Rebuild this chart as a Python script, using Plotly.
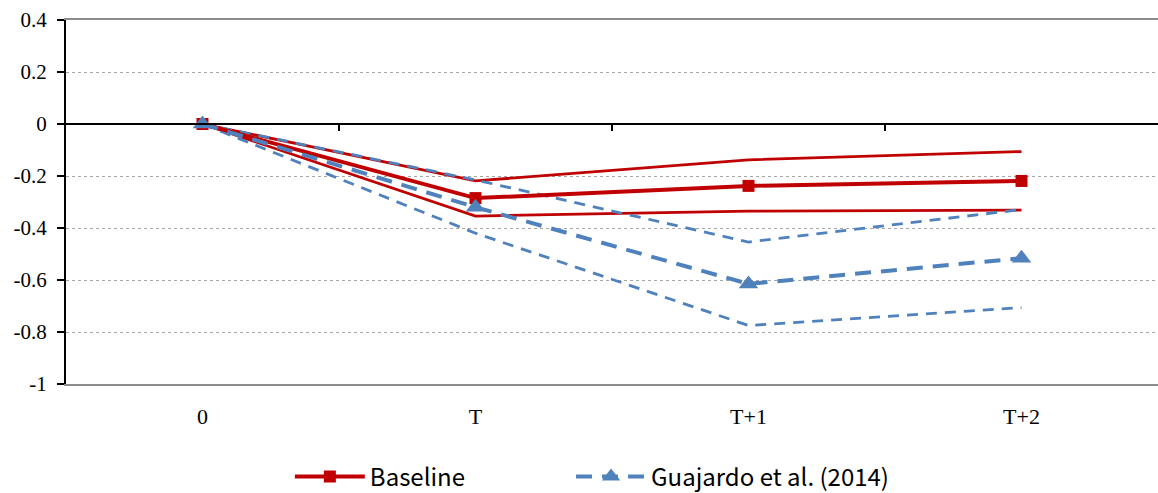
import plotly.graph_objects as go

# Horizons and impulse responses
periods = ["0", "T", "T+1", "T+2"]

baseline = [0.0, -0.285, -0.238, -0.219]
baseline_upper = [0.0, -0.219, -0.138, -0.106]
baseline_lower = [0.0, -0.354, -0.335, -0.331]

guajardo = [0.0, -0.320, -0.615, -0.516]
guajardo_upper = [0.0, -0.215, -0.454, -0.329]
guajardo_lower = [0.0, -0.420, -0.775, -0.706]

y_ticks = [0.4, 0.2, 0, -0.2, -0.4, -0.6, -0.8, -1]
y_labels = ["0.4", "0.2", "0", "-0.2", "-0.4", "-0.6", "-0.8", "-1"]

RED = "#C00000"
BLUE = "#4F81BD"
SERIF = "Liberation Serif, Times New Roman, serif"
LEGEND_FONT = dict(family="Noto Sans CJK KR", size=24, color="black")
x_idx = list(range(len(periods)))

fig = go.Figure()

# Confidence bands (thin lines)
for ys in (baseline_upper, baseline_lower):
    fig.add_trace(go.Scatter(x=x_idx, y=ys, mode="lines",
                             line=dict(color=RED, width=2.8),
                             showlegend=False, hoverinfo="skip"))
for ys in (guajardo_upper, guajardo_lower):
    fig.add_trace(go.Scatter(x=x_idx, y=ys, mode="lines",
                             line=dict(color=BLUE, width=2.8, dash="11px,8px"),
                             showlegend=False, hoverinfo="skip"))

# Point estimates
fig.add_trace(go.Scatter(x=x_idx, y=baseline, mode="lines+markers", name="Baseline",
                         line=dict(color=RED, width=4),
                         marker=dict(symbol="square", size=12, color=RED),
                         legend="legend"))
fig.add_trace(go.Scatter(x=x_idx, y=guajardo, mode="lines+markers",
                         name="Guajardo et al. (2014)",
                         line=dict(color=BLUE, width=4, dash="16px,10px"),
                         marker=dict(symbol="triangle-up", size=17, color=BLUE),
                         legend="legend2"))

# Category axis drawn along y = 0 (ticks between categories)
fig.add_trace(go.Scatter(x=x_idx, y=[None] * len(x_idx), xaxis="x2",
                         showlegend=False, hoverinfo="skip"))

fig.update_layout(
    width=1158, height=493,
    margin=dict(l=66, r=0, t=20, b=109, autoexpand=False),
    plot_bgcolor="white", paper_bgcolor="white",
    font=dict(family=SERIF, size=22, color="black"),
    xaxis=dict(
        range=[-0.5, 3.5], tickmode="array", tickvals=x_idx, ticktext=periods,
        tickfont=dict(family=SERIF, size=22, color="black"),
        showgrid=False, zeroline=False, ticks="",
        showline=True, linecolor="#8c8c8c", linewidth=2, mirror=True,
        ticklabelstandoff=12,
    ),
    xaxis2=dict(
        range=[-0.5, 3.5], overlaying="x", anchor="free", position=1 / 1.4,
        side="bottom", showgrid=False, zeroline=False,
        tickmode="array", tickvals=[0.5, 1.5, 2.5], showticklabels=False,
        ticks="outside", ticklen=6, tickwidth=1.5, tickcolor="black",
        showline=True, linecolor="black", linewidth=2,
    ),
    yaxis=dict(
        range=[-1, 0.4], tickmode="array", tickvals=y_ticks, ticktext=y_labels,
        tickfont=dict(family=SERIF, size=21, color="black"),
        showgrid=True, gridcolor="#a6a6a6", gridwidth=1, griddash="dot",
        zeroline=False, showline=True, linecolor="black", linewidth=2,
        ticks="outside", ticklen=7, tickwidth=1.5, tickcolor="black",
        ticklabelstandoff=6,
    ),
    legend=dict(
        orientation="h", x=0.205, xanchor="left", y=-0.255, yanchor="middle",
        font=LEGEND_FONT, itemwidth=70,
    ),
    legend2=dict(
        orientation="h", x=0.4625, xanchor="left", y=-0.255, yanchor="middle",
        font=LEGEND_FONT, itemwidth=70,
    ),
)

fig.write_html("out.html")
